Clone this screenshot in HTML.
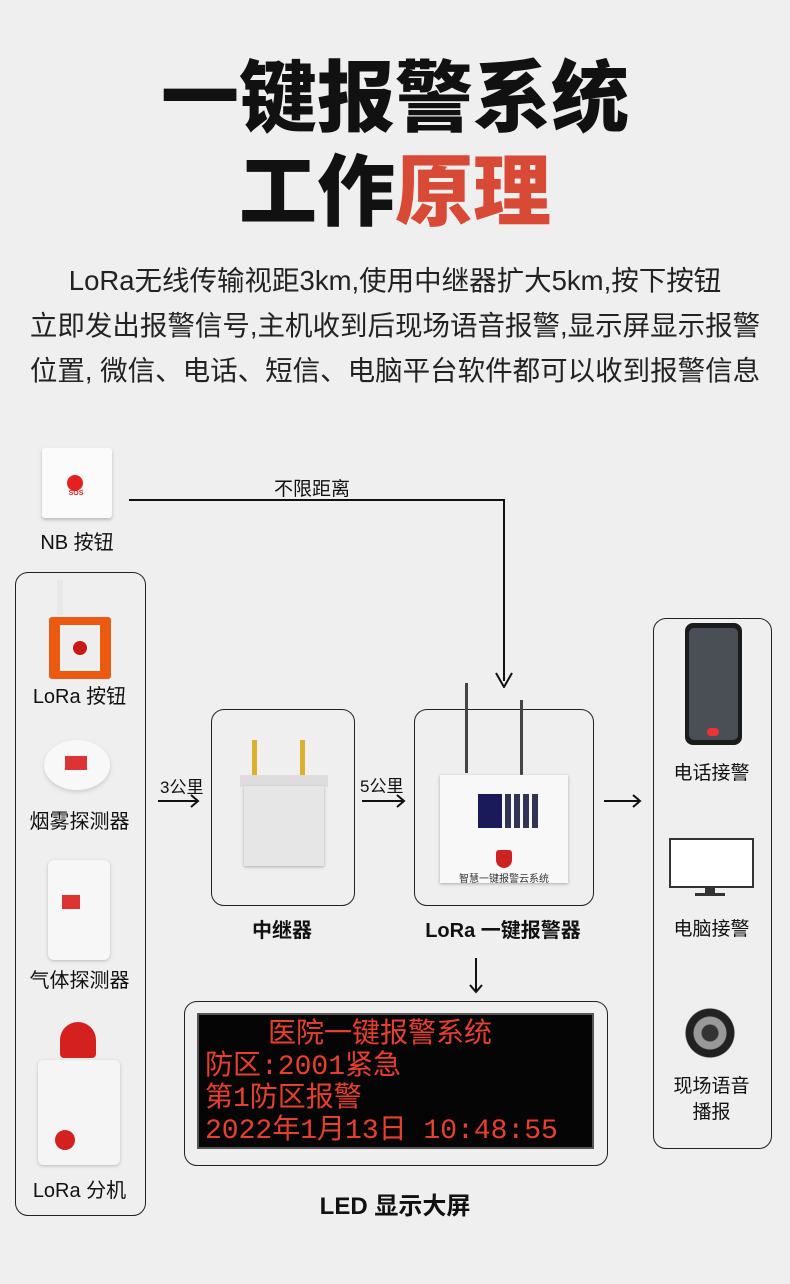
<!DOCTYPE html>
<html><head><meta charset="utf-8"><style>
body{margin:0;width:790px;height:1284px;background:#efefef;position:relative;overflow:hidden;font-family:"Liberation Sans","Noto Sans CJK SC",sans-serif;color:#111}
.a{position:absolute}
.t{position:absolute;white-space:nowrap;text-align:center}
.box{position:absolute;border:1.5px solid #222;border-radius:13px}
.ln{position:absolute;background:#111}
</style></head><body>
<div class="t" style="left:0;width:790px;top:48px;font-size:78px;font-weight:900;line-height:100px">一键报警系统</div>
<div class="t" style="left:0;width:790px;top:142px;font-size:78px;font-weight:900;line-height:100px">工作<span style="color:#d84a35">原理</span></div>
<div class="t" style="left:0;width:790px;top:258px;font-size:27.5px;line-height:45px;color:#222">LoRa无线传输视距3km,使用中继器扩大5km,按下按钮<br>立即发出报警信号,主机收到后现场语音报警,显示屏显示报警<br>位置, 微信、电话、短信、电脑平台软件都可以收到报警信息</div>

<!-- NB button -->
<div class="a" style="left:42px;top:448px;width:70px;height:70px;background:#fbfbfb;border-radius:3px;box-shadow:0 2px 3px #bbb"></div>
<div class="a" style="left:67px;top:475px;width:16px;height:16px;background:#e42020;border-radius:50%"></div>
<div class="t" style="left:66px;top:490px;width:20px;font-size:7px;color:#e42020;font-weight:bold">SOS</div>
<div class="t" style="left:17px;top:526px;width:120px;font-size:20px">NB 按钮</div>
<div class="ln" style="left:129px;top:499px;width:375px;height:2px"></div>
<div class="ln" style="left:503px;top:499px;width:2px;height:182px"></div>
<svg class="a" style="left:495px;top:672px" width="18" height="16"><path d="M1 1 L9 15 L17 1" fill="none" stroke="#111" stroke-width="2"/></svg>
<div class="t" style="left:262px;top:474px;width:100px;font-size:19px">不限距离</div>

<!-- left box -->
<div class="box" style="left:15px;top:572px;width:129px;height:642px"></div>
<div class="a" style="left:57px;top:580px;width:6px;height:35px;background:#e8e8e8"></div>
<div class="a" style="left:49px;top:617px;width:62px;height:62px;background:#ec5a10;border-radius:3px"></div>
<div class="a" style="left:60px;top:625px;width:40px;height:46px;background:#eee"></div>
<div class="a" style="left:73px;top:641px;width:14px;height:14px;background:#c81818;border-radius:50%"></div>
<div class="t" style="left:15px;top:680px;width:129px;font-size:20px">LoRa 按钮</div>
<div class="a" style="left:44px;top:740px;width:66px;height:50px;background:#f8f8f8;border-radius:50%;box-shadow:0 2px 4px #ccc"></div>
<div class="a" style="left:65px;top:756px;width:22px;height:14px;background:#d33"></div>
<div class="t" style="left:15px;top:805px;width:129px;font-size:20px">烟雾探测器</div>
<div class="a" style="left:48px;top:860px;width:62px;height:100px;background:#f7f7f7;border-radius:6px;box-shadow:0 1px 3px #bbb"></div>
<div class="a" style="left:62px;top:895px;width:18px;height:14px;background:#d33"></div>
<div class="t" style="left:15px;top:964px;width:129px;font-size:20px">气体探测器</div>
<div class="a" style="left:60px;top:1022px;width:36px;height:36px;background:#d52020;border-radius:50% 50% 4px 4px"></div>
<div class="a" style="left:38px;top:1060px;width:82px;height:105px;background:#f5f5f5;border-radius:5px;box-shadow:0 1px 3px #bbb"></div>
<div class="a" style="left:55px;top:1130px;width:20px;height:20px;background:#d52020;border-radius:50%"></div>
<div class="t" style="left:15px;top:1174px;width:129px;font-size:20px">LoRa 分机</div>

<!-- arrows -->
<div class="t" style="left:160px;top:773px;font-size:17px">3公里</div>
<div class="ln" style="left:158px;top:800px;width:40px;height:2px"></div>
<svg class="a" style="left:190px;top:794px" width="10" height="14"><path d="M1 1 L8 7 L1 13" fill="none" stroke="#111" stroke-width="2"/></svg>
<div class="t" style="left:360px;top:772px;font-size:17px">5公里</div>
<div class="ln" style="left:362px;top:800px;width:42px;height:2px"></div>
<svg class="a" style="left:396px;top:794px" width="10" height="14"><path d="M1 1 L8 7 L1 13" fill="none" stroke="#111" stroke-width="2"/></svg>
<div class="ln" style="left:604px;top:800px;width:36px;height:2px"></div>
<svg class="a" style="left:632px;top:794px" width="10" height="14"><path d="M1 1 L8 7 L1 13" fill="none" stroke="#111" stroke-width="2"/></svg>
<div class="ln" style="left:475px;top:958px;width:2px;height:34px"></div>
<svg class="a" style="left:469px;top:984px" width="14" height="10"><path d="M1 1 L7 8 L13 1" fill="none" stroke="#111" stroke-width="2"/></svg>

<!-- relay -->
<div class="box" style="left:211px;top:709px;width:142px;height:195px"></div>
<div class="a" style="left:252px;top:740px;width:5px;height:38px;background:#d9b030"></div>
<div class="a" style="left:300px;top:740px;width:5px;height:38px;background:#d9b030"></div>
<div class="a" style="left:240px;top:775px;width:88px;height:12px;background:#ddd"></div>
<div class="a" style="left:244px;top:786px;width:80px;height:80px;background:#e6e6e6;box-shadow:0 1px 3px #aaa"></div>
<div class="t" style="left:211px;top:914px;width:142px;font-size:20px;font-weight:bold">中继器</div>

<!-- alarm host -->
<div class="box" style="left:414px;top:709px;width:178px;height:195px"></div>
<div class="a" style="left:465px;top:683px;width:3px;height:90px;background:#444"></div>
<div class="a" style="left:520px;top:700px;width:3px;height:75px;background:#444"></div>
<div class="a" style="left:440px;top:775px;width:128px;height:108px;background:#f8f8f8;box-shadow:0 1px 3px #aaa"></div>
<div class="a" style="left:478px;top:794px;width:24px;height:34px;background:#1a1a5a"></div>
<div class="a" style="left:505px;top:794px;width:36px;height:34px;background:repeating-linear-gradient(90deg,#335 0 6px,#f8f8f8 6px 9px)"></div>
<div class="a" style="left:496px;top:850px;width:16px;height:18px;background:#c22;border-radius:3px 3px 8px 8px"></div>
<div class="t" style="left:440px;top:870px;width:128px;font-size:10px;color:#333">智慧一键报警云系统</div>
<div class="t" style="left:414px;top:914px;width:178px;font-size:20px;font-weight:bold">LoRa 一键报警器</div>

<!-- LED -->
<div class="box" style="left:184px;top:1001px;width:422px;height:163px"></div>
<div class="a" style="left:197px;top:1013px;width:397px;height:136px;background:#050505;border:2px solid #555;box-sizing:border-box"></div>
<div class="a" style="left:205px;top:1020px;font-family:'Liberation Mono','Noto Sans CJK SC',monospace;color:#e8402e;font-size:28px;line-height:32px;white-space:pre"><span style="margin-left:63px">医院一键报警系统</span>
防区:2001紧急
第1防区报警
2022年1月13日 10:48:55</div>
<div class="t" style="left:184px;top:1186px;width:422px;font-size:24px;font-weight:bold">LED 显示大屏</div>

<!-- right box -->
<div class="box" style="left:653px;top:618px;width:117px;height:529px"></div>
<div class="a" style="left:685px;top:623px;width:57px;height:122px;background:#1b1b1b;border-radius:8px"></div>
<div class="a" style="left:689px;top:628px;width:49px;height:112px;background:#4a4e55;border-radius:5px"></div>
<div class="a" style="left:707px;top:728px;width:12px;height:8px;background:#e33;border-radius:4px"></div>
<div class="t" style="left:653px;top:758px;width:117px;font-size:19px">电话接警</div>
<div class="a" style="left:669px;top:838px;width:81px;height:46px;background:#fff;border:2px solid #333"></div>
<div class="a" style="left:705px;top:886px;width:10px;height:8px;background:#333"></div>
<div class="a" style="left:695px;top:893px;width:30px;height:3px;background:#333"></div>
<div class="t" style="left:653px;top:914px;width:117px;font-size:19px">电脑接警</div>
<div class="a" style="left:677px;top:1008px;width:66px;height:50px;background:radial-gradient(circle,#333 0 8px,#999 9px 16px,#222 17px 24px,transparent 25px)"></div>
<div class="t" style="left:653px;top:1074px;width:117px;font-size:19px;line-height:26px">现场语音<br>播报</div>
</body></html>
